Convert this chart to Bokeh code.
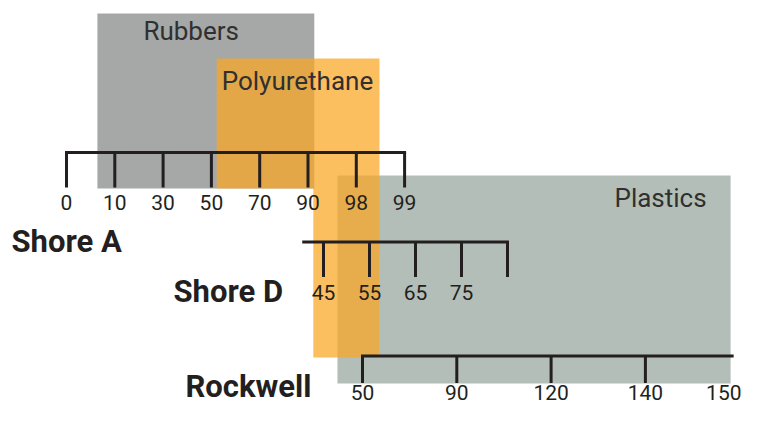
from bokeh.plotting import figure
from bokeh.models import Range1d
from bokeh.core.properties import value
from bokeh.embed import file_html
from bokeh.resources import INLINE

# ---- data ----
shore_a_labels = ["0", "10", "30", "50", "70", "90", "98", "99"]
shore_d_labels = ["45", "55", "65", "75"]
rockwell_labels = ["50", "90", "120", "140", "150"]

# material bands: name, extent (in Shore A scale steps) and the scale row they span
band_names = ["Rubbers", "Plastics", "Polyurethane", "Polyurethane"]
band_start = [0.64, 5.61, 3.11, 5.11]
band_end = [5.13, 13.75, 6.48, 6.48]

# ---- layout ----
W, H = 742, 407
INK = "#231f20"
FONT = value("Roboto")

p = figure(width=W, height=H, output_backend="svg", toolbar_location=None,
           x_range=Range1d(0, W), y_range=Range1d(H, 0),
           x_axis_location=None, y_axis_location=None, min_border=0,
           outline_line_color=None, background_fill_color="white")
p.grid.visible = False

A_X0, A_STEP = 66.0, 48.3
D_X0, D_STEP = 323.0, 46.0
R_X0, R_STEP = 362.0, 94.3


def ax(i):
    return A_X0 + A_STEP * i


# vertical spans of each band (layout)
band_vert = [(13, 188), (175, 383), (58, 188), (188, 357)]

# Rubbers and Plastics
for k in (0, 1):
    top, bot = band_vert[k]
    p.quad(left=[ax(band_start[k])], right=[ax(band_end[k])], top=[top], bottom=[bot],
           fill_color=["#a6a7a7", "#b4beb8"][k], line_color=None)

# Polyurethane (two rows) as a single translucent shape
(t1, b1), (t2, b2) = band_vert[2], band_vert[3]
l1, r1 = ax(band_start[2]), ax(band_end[2])
l2, r2 = ax(band_start[3]), ax(band_end[3])
p.patch(x=[l1, r1, r2, l2, l2, l1], y=[t1, t1, b2, b2, b1, b1],
        fill_color="#f9a724", fill_alpha=0.73, line_color=None)

LAB = dict(text_baseline="middle", text_font=FONT, text_font_size="26px",
           text_color="#303030")
p.text(x=[ax(band_start[0]) + 46], y=[30], text=[band_names[0]],
       text_align="left", **LAB)
p.text(x=[ax(band_start[2]) + 5], y=[80], text=[band_names[2]],
       text_align="left", **LAB)
p.text(x=[ax(band_end[1]) - 24], y=[197], text=[band_names[1]],
       text_align="right", **LAB)


def scale(x0, step, labels, y, tick_len, label_y, line_from, line_to, tick_idx,
          last_right=None):
    xs = [x0 + step * i for i in range(len(labels))]
    p.segment(x0=[x0 + step * line_from], y0=[y], x1=[x0 + step * line_to], y1=[y],
              line_color=INK, line_width=3, line_cap="square")
    tx = [x0 + step * i for i in tick_idx]
    p.segment(x0=tx, y0=[y] * len(tx), x1=tx, y1=[y + tick_len] * len(tx),
              line_color=INK, line_width=3)
    n = len(labels) if last_right is None else len(labels) - 1
    p.text(x=xs[:n], y=[label_y] * n, text=labels[:n], text_align="center",
           text_baseline="middle", text_font=FONT, text_font_size="21px",
           text_color=INK)
    if last_right is not None:
        p.text(x=[last_right], y=[label_y], text=labels[-1:], text_align="right",
               text_baseline="middle", text_font=FONT, text_font_size="21px",
               text_color=INK)


n_a = len(shore_a_labels)
scale(A_X0, A_STEP, shore_a_labels, 152, 35, 202, 0, n_a - 1, list(range(n_a)))
n_d = len(shore_d_labels)
scale(D_X0, D_STEP, shore_d_labels, 241.5, 35, 292, -0.43, n_d, list(range(n_d + 1)))
n_r = len(rockwell_labels)
scale(R_X0, R_STEP, rockwell_labels, 355.5, 27, 392, 0, 3.92, list(range(n_r - 1)),
      last_right=W - 1)

# scale names
p.text(x=[11, 173, 185], y=[241, 291, 386], text=["Shore A", "Shore D", "Rockwell"],
       text_align="left", text_baseline="middle", text_font=FONT,
       text_font_size="31px", text_font_style="bold", text_color=INK)

open("out.html", "w").write(file_html(p, INLINE))
